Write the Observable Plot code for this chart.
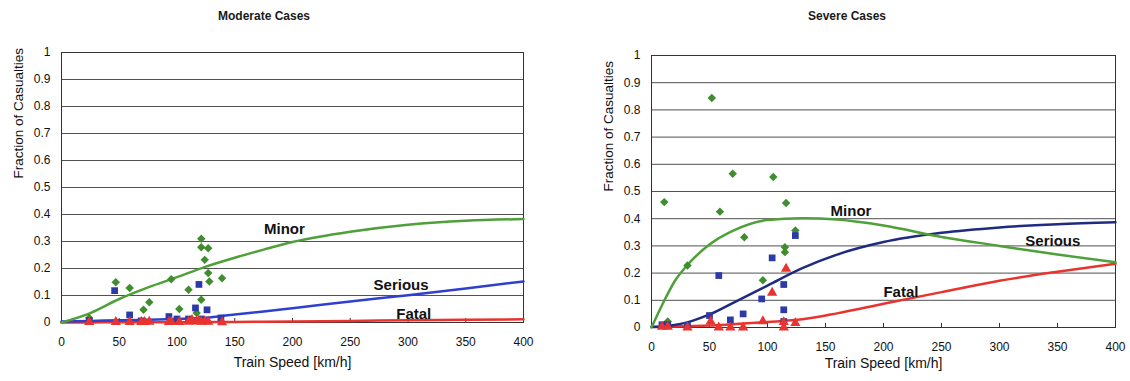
<!DOCTYPE html>
<html>
<head>
<meta charset="utf-8">
<script src="https://cdn.jsdelivr.net/npm/d3@7"></script>
<script src="https://cdn.jsdelivr.net/npm/@observablehq/plot@0.6"></script>
<style>
  body { margin: 0; background: #fff; font-family: "Liberation Sans", Arial, sans-serif; }
  #page { position: relative; width: 1130px; height: 381px; overflow: hidden; background: #fff; }
  .title { position: absolute; top: 8px; width: 300px; text-align: center; font-size: 12px; font-weight: bold; color: #1a1a1a; line-height: 16px; }
  .panel { position: absolute; top: 28px; }
</style>
</head>
<body>
<div id="page">
  <div class="title" style="left:114px">Moderate Cases</div>
  <div class="title" style="left:697px">Severe Cases</div>
  <div class="panel" id="moderate" style="left:0px"></div>
  <div class="panel" id="severe" style="left:560px"></div>
</div>
<script>
// Axis ticks
const speedTicks = [0, 50, 100, 150, 200, 250, 300, 350, 400];
const fractionTicks = [0, 0.1, 0.2, 0.3, 0.4, 0.5, 0.6, 0.7, 0.8, 0.9, 1];

// Moderate cases: fitted curves
const modCurveSpeed  = [0, 25, 50, 75, 100, 125, 150, 175, 200, 250, 300, 350, 400];
const modMinorFit    = [0, 0.035, 0.087, 0.13, 0.168, 0.207, 0.24, 0.27, 0.298, 0.336, 0.362, 0.377, 0.383];
const modSeriousFit  = [0.004, 0.006, 0.008, 0.01, 0.013, 0.018, 0.03, 0.041, 0.053, 0.078, 0.101, 0.126, 0.152];
const modFatalFit    = [0, 0, 0.001, 0.001, 0.001, 0.002, 0.002, 0.003, 0.004, 0.006, 0.008, 0.01, 0.012];

// Moderate cases: observed accidents
const modMinorSpeed   = [24, 47, 59, 71, 76, 95, 102, 110, 117, 121, 121, 127, 124, 127, 128, 121, 139];
const modMinorValue   = [0.017, 0.149, 0.128, 0.047, 0.075, 0.16, 0.05, 0.121, 0.035, 0.31, 0.279, 0.275, 0.232, 0.183, 0.152, 0.084, 0.164];
const modSeriousSpeed = [24, 46, 59, 69, 93, 100, 110, 116, 119, 121, 126, 138];
const modSeriousValue = [0.007, 0.118, 0.028, 0.006, 0.022, 0.013, 0.013, 0.054, 0.141, 0.013, 0.047, 0.017];
const modFatalSpeed   = [24, 47, 59, 69, 72, 76, 93, 95, 102, 110, 113, 117, 119, 121, 124, 127, 139];
const modFatalValue   = [0.002, 0.002, 0.002, 0.002, 0.002, 0.003, 0.002, 0.003, 0.002, 0.003, 0.01, 0.004, 0.006, 0.003, 0.004, 0.003, 0.001];

// Severe cases: fitted curves
const sevCurveSpeed  = [0, 10, 20, 30, 50, 70, 100, 130, 160, 200, 250, 300, 350, 400];
const sevMinorFit    = [0, 0.09, 0.17, 0.225, 0.305, 0.355, 0.395, 0.402, 0.397, 0.375, 0.333, 0.3, 0.268, 0.24];
const sevSeriousFit  = [0.002, 0.004, 0.009, 0.018, 0.048, 0.09, 0.154, 0.218, 0.268, 0.314, 0.348, 0.368, 0.38, 0.387];
const sevFatalFit    = [0.003, 0.003, 0.004, 0.005, 0.007, 0.012, 0.02, 0.03, 0.052, 0.087, 0.13, 0.172, 0.205, 0.234];

// Severe cases: observed accidents
const sevMinorSpeed   = [11, 14, 31, 52, 59, 70, 80, 96, 105, 116, 115, 115, 124];
const sevMinorValue   = [0.461, 0.022, 0.228, 0.844, 0.426, 0.565, 0.332, 0.174, 0.553, 0.458, 0.295, 0.277, 0.357];
const sevSeriousSpeed = [9, 14, 31, 50, 58, 68, 79, 95, 104, 114, 114, 114, 124];
const sevSeriousValue = [0.01, 0.01, 0.007, 0.044, 0.191, 0.028, 0.05, 0.105, 0.256, 0.158, 0.065, 0.022, 0.338];
const sevFatalSpeed   = [9, 14, 31, 51, 58, 68, 79, 96, 104, 116, 114, 114, 124];
const sevFatalValue   = [0.003, 0.003, 0, 0.022, 0, 0, 0, 0.023, 0.128, 0.216, 0, 0.02, 0.016];

// Curve label positions
const severityNames = ["Minor", "Serious", "Fatal"];
const modLabelSpeed = [193, 294, 305];
const modLabelValue = [0.345, 0.14, 0.03];
const sevLabelSpeed = [172, 346, 215];
const sevLabelValue = [0.428, 0.317, 0.129];

const GREEN = "#4f9f3a", GREEN_DOT = "#3f8d2f", RED = "#e8332e", BLUE_DOT = "#2b3aa6";
const FONT = "'Liberation Sans', Arial, sans-serif";

const zip = (xs, ys) => xs.map((x, i) => ({speed: x, value: ys[i]}));
const fmt = d => String(+d.toFixed(1));

function panel(cfg) {
  const curveMarks = [
    Plot.line(zip(cfg.curveSpeed, cfg.fatalFit),   {x: "speed", y: "value", stroke: RED, strokeWidth: 2.5, curve: "monotone-x"}),
    Plot.line(zip(cfg.curveSpeed, cfg.seriousFit), {x: "speed", y: "value", stroke: cfg.seriousColor, strokeWidth: 2.5, curve: "monotone-x"}),
    Plot.line(zip(cfg.curveSpeed, cfg.minorFit),   {x: "speed", y: "value", stroke: GREEN, strokeWidth: 2.5, curve: "monotone-x"})
  ];
  const dotMarks = [
    Plot.dot(zip(cfg.minorSpeed, cfg.minorValue),     {x: "speed", y: "value", symbol: "diamond2", r: 3.8, fill: GREEN_DOT, stroke: "none"}),
    Plot.dot(zip(cfg.seriousSpeed, cfg.seriousValue), {x: "speed", y: "value", symbol: "square", r: 3.8, fill: BLUE_DOT, stroke: "none"}),
    Plot.dot(zip(cfg.fatalSpeed, cfg.fatalValue),     {x: "speed", y: "value", symbol: "triangle", r: 3.8, fill: RED, stroke: "none"})
  ];
  const labels = severityNames.map((name, i) => ({name, speed: cfg.labelSpeed[i], value: cfg.labelValue[i]}));
  return Plot.plot({
    width: cfg.width,
    height: 353,
    marginTop: cfg.margin[0],
    marginRight: cfg.margin[1],
    marginBottom: cfg.margin[2],
    marginLeft: cfg.margin[3],
    x: {domain: [0, 400]},
    y: {domain: [0, 1]},
    style: {fontFamily: FONT, fontSize: "12px", color: "#111", background: "transparent", overflow: "visible"},
    marks: [
      Plot.ruleY(fractionTicks, {stroke: "#333", strokeWidth: 1, strokeOpacity: 0.85}),
      Plot.frame({stroke: "#333"}),
      Plot.ruleX(speedTicks.slice(1, -1), {y1: 0, y2: 0.015, stroke: "#333"}),
      Plot.axisX({ticks: speedTicks, tickSize: 0, tickPadding: 15, tickFormat: d => String(d), label: null}),
      Plot.axisY({ticks: fractionTicks, tickSize: 0, tickPadding: 11, tickFormat: fmt, label: null}),
      Plot.text(["Train Speed [km/h]"], {frameAnchor: "bottom", dy: cfg.xTitleDy, fontSize: 14, fill: "#111"}),
      Plot.text(["Fraction of Casualties"], {frameAnchor: "left", dx: -43, dy: cfg.yTitleDy, rotate: -90, fontSize: 13.5, fill: "#111"}),
      ...curveMarks,
      ...dotMarks,
      Plot.text(labels, {x: "speed", y: "value", text: "name", fontSize: 15, fontWeight: "bold", fill: "#111"})
    ]
  });
}

document.getElementById("moderate").append(panel({
  width: 560, margin: [24, 37, 59, 61], xTitleDy: 44, yTitleDy: -9,
  seriousColor: "#2f40cf",
  curveSpeed: modCurveSpeed, minorFit: modMinorFit, seriousFit: modSeriousFit, fatalFit: modFatalFit,
  minorSpeed: modMinorSpeed, minorValue: modMinorValue,
  seriousSpeed: modSeriousSpeed, seriousValue: modSeriousValue,
  fatalSpeed: modFatalSpeed, fatalValue: modFatalValue,
  labelSpeed: modLabelSpeed, labelValue: modLabelValue
}));

document.getElementById("severe").append(panel({
  width: 570, margin: [27, 15, 54, 91], xTitleDy: 40, yTitleDy: 0,
  seriousColor: "#1f2b80",
  curveSpeed: sevCurveSpeed, minorFit: sevMinorFit, seriousFit: sevSeriousFit, fatalFit: sevFatalFit,
  minorSpeed: sevMinorSpeed, minorValue: sevMinorValue,
  seriousSpeed: sevSeriousSpeed, seriousValue: sevSeriousValue,
  fatalSpeed: sevFatalSpeed, fatalValue: sevFatalValue,
  labelSpeed: sevLabelSpeed, labelValue: sevLabelValue
}));
</script>
</body>
</html>
